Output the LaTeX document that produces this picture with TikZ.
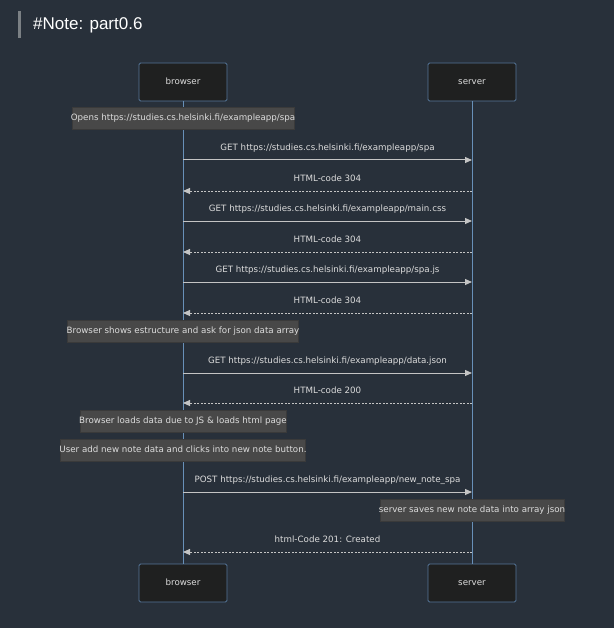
\documentclass[tikz,border=0pt]{standalone}
\usepackage{fontspec}
\setmainfont{DejaVu Sans}
\newfontfamily\titlefont{Liberation Sans}
\usetikzlibrary{arrows.meta,positioning}
\definecolor{bgdark}{HTML}{28303A}
\definecolor{titlebar}{HTML}{7B8084}
\definecolor{actorfill}{HTML}{1F2020}
\definecolor{actoredge}{HTML}{56769A}
\definecolor{lifeblue}{HTML}{6890B8}
\definecolor{notegray}{HTML}{484848}
\definecolor{msggray}{HTML}{C4C4C4}
\definecolor{textlight}{HTML}{DCDCDC}
\tikzset{
  actor/.style = {
    draw=actoredge, fill=actorfill, line width=0.8pt,
    rounded corners=1.5pt,
    minimum width=88pt, minimum height=38pt,
    text height=6.5pt, text depth=2pt,
    text=textlight, font={\fontsize{8.7}{10}\selectfont}
  },
  lifeline/.style = {
    draw=lifeblue, line width=1pt
  },
  note/.style = {
    fill=notegray, draw=notegray!80!black, line width=0.4pt,
    inner xsep=-1pt, minimum height=22pt,
    text height=6.5pt, text depth=2pt,
    text=textlight, font={\fontsize{8.7}{10}\selectfont}
  },
  request/.style = {
    draw=msggray, line width=1pt,
    -{Triangle[length=7pt,width=6pt]}
  },
  response/.style = {
    draw=msggray, line width=0.9pt,
    dash pattern=on 2pt off 1.5pt,
    -{Triangle[length=7pt,width=6pt]}
  },
  msglabel/.style = {
    midway, above=7pt, inner sep=0pt,
    text height=6.5pt, text depth=2pt,
    text=textlight, font={\fontsize{8.7}{10}\selectfont}
  },
}
\begin{document}
\begin{tikzpicture}[x=1pt,y=-1pt]
  \fill[bgdark] (0,0) rectangle (614,628);
  \useasboundingbox (0,0) rectangle (614,628);

  % title
  \fill[titlebar] (18,11) rectangle (21,38);
  \node[anchor=base west, inner sep=0pt, text=white,
    font={\titlefont\fontsize{17}{20}\selectfont}] (title) at (33,30) {\#Note: part0.6};

  % participants and lifelines
  \node[actor] (browser) at (183,82) {browser};
  \node[actor] (server) at (472,82) {server};
  \node[actor] (browserfoot) at (183,583) {browser};
  \node[actor] (serverfoot) at (472,583) {server};
  \draw[lifeline] (browser) -- (browserfoot);
  \draw[lifeline] (server) -- (serverfoot);

  % notes
  \foreach \name/\xpos/\ypos/\txt in {
    opens/183/118/{Opens https://studies.cs.helsinki.fi/exampleapp/spa},
    shows/183/331/{Browser shows estructure and ask for json data array},
    loads/183/421/{Browser loads data due to JS \& loads html page},
    adds/183/450/{User add new note data and clicks into new note button.},
    saves/472/510/{server saves new note data into array json}
  } {
    \node[note] (\name) at (\xpos,\ypos) {\txt};
  }

  % requests
  \foreach \n/\ypos/\txt in {
    1/160/{GET https://studies.cs.helsinki.fi/exampleapp/spa},
    3/221/{GET https://studies.cs.helsinki.fi/exampleapp/main.css},
    5/282/{GET https://studies.cs.helsinki.fi/exampleapp/spa.js},
    7/373/{GET https://studies.cs.helsinki.fi/exampleapp/data.json},
    9/492/{POST https://studies.cs.helsinki.fi/exampleapp/new\_note\_spa}
  } {
    \coordinate (b\n) at (183,\ypos);
    \coordinate (s\n) at (472,\ypos);
    \draw[request] (b\n) -- (s\n) node[msglabel] (m\n) {\txt};
  }

  % responses
  \foreach \n/\ypos/\txt in {
    2/191/{HTML-code 304},
    4/252/{HTML-code 304},
    6/313/{HTML-code 304},
    8/403/{HTML-code 200},
    10/552/{html-Code 201: Created}
  } {
    \coordinate (b\n) at (183,\ypos);
    \coordinate (s\n) at (472,\ypos);
    \draw[response] (s\n) -- (b\n) node[msglabel] (m\n) {\txt};
  }

\end{tikzpicture}
\end{document}
